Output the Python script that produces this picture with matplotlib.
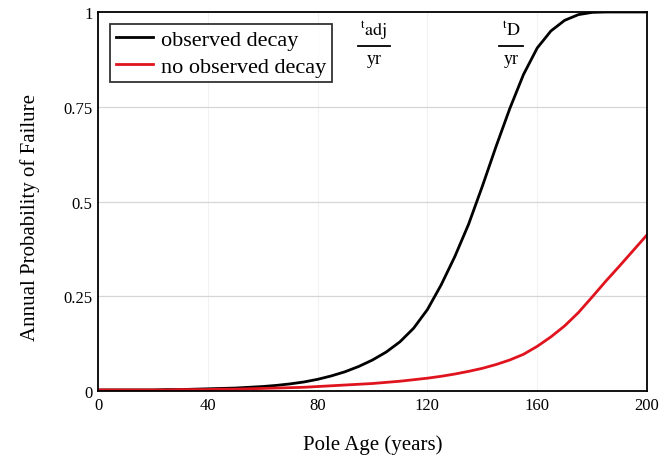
import matplotlib.pyplot as plt

plt.rcParams['font.family'] = 'Liberation Serif'
plt.rcParams['mathtext.fontset'] = 'stix'

# pole age (years), every 5 years
age = [0, 5, 10, 15, 20, 25, 30, 35, 40, 45, 50, 55, 60, 65, 70, 75, 80,
       85, 90, 95, 100, 105, 110, 115, 120, 125, 130, 135, 140, 145, 150,
       155, 160, 165, 170, 175, 180, 185, 190, 195, 200]
observed = [0.003, 0.003, 0.003, 0.003, 0.003, 0.004, 0.004, 0.005, 0.006,
            0.007, 0.008, 0.010, 0.012, 0.015, 0.019, 0.024, 0.031, 0.040,
            0.051, 0.065, 0.082, 0.103, 0.130, 0.166, 0.215, 0.280, 0.355,
            0.440, 0.540, 0.645, 0.745, 0.835, 0.905, 0.950, 0.978, 0.993,
            0.999, 1.0, 1.0, 1.0, 1.0]
no_observed = [0.003, 0.003, 0.003, 0.003, 0.003, 0.003, 0.004, 0.004,
               0.004, 0.005, 0.005, 0.006, 0.007, 0.008, 0.009, 0.010, 0.012,
               0.014, 0.016, 0.018, 0.020, 0.023, 0.026, 0.030, 0.034, 0.039,
               0.045, 0.052, 0.060, 0.070, 0.082, 0.097, 0.118, 0.143, 0.172,
               0.207, 0.248, 0.290, 0.330, 0.371, 0.412]

xticks = [0, 40, 80, 120, 160, 200]
yticks = [0, 0.25, 0.5, 0.75, 1]
ytick_labels = ['0', '0.25', '0.5', '0.75', '1']

# fraction labels: (centre x, half width of bar, subscript)
fracs = [(100.5, 5.8, 'adj'), (150.5, 4.4, 'D')]

fig = plt.figure(figsize=(6.64, 4.64), dpi=100)
ax = fig.add_axes([0.1476, 0.155, 0.8268, 0.817])

for x in xticks[1:-1]:
    ax.axvline(x, color='#f2f2f2', lw=0.8, zorder=0)
for y in yticks[1:-1]:
    ax.axhline(y, color='#d6d6d6', lw=0.9, zorder=0)

ax.plot(age, observed, color='black', lw=2, label='observed decay')
ax.plot(age, no_observed, color='#e0141e', lw=2, label='no observed decay')

ax.set_xlim(0, 200)
ax.set_ylim(0, 1)
ax.set_xticks(xticks)
ax.set_yticks(yticks)
ax.set_yticklabels(ytick_labels)
ax.tick_params(length=0, labelsize=12, pad=4)
for s in ax.spines.values():
    s.set_linewidth(1.3)

ax.set_xlabel('Pole Age (years)', fontsize=15)
ax.set_ylabel('Annual Probability of Failure', fontsize=15)
ax.xaxis.set_label_coords(0.5, -0.115)
ax.yaxis.set_label_coords(-0.105, 0.46)

for cx, hw, sub in fracs:
    ax.text(cx, 0.952, r'$^{\mathrm{t}}\mathrm{%s}$' % sub, fontsize=13,
            ha='center', va='center')
    ax.plot([cx - hw, cx + hw], [0.910, 0.910], color='black', lw=1.3)
    ax.text(cx, 0.876, 'yr', fontsize=13, ha='center', va='center')

leg = ax.legend(loc='upper left', bbox_to_anchor=(0.022, 0.968), fontsize=16,
                frameon=True, fancybox=False, borderpad=0.25, borderaxespad=0,
                handlelength=1.7, handletextpad=0.35, labelspacing=0.27)
leg.get_frame().set_edgecolor('black')
leg.get_frame().set_linewidth(1.3)

fig.savefig('out.png', dpi=100)
